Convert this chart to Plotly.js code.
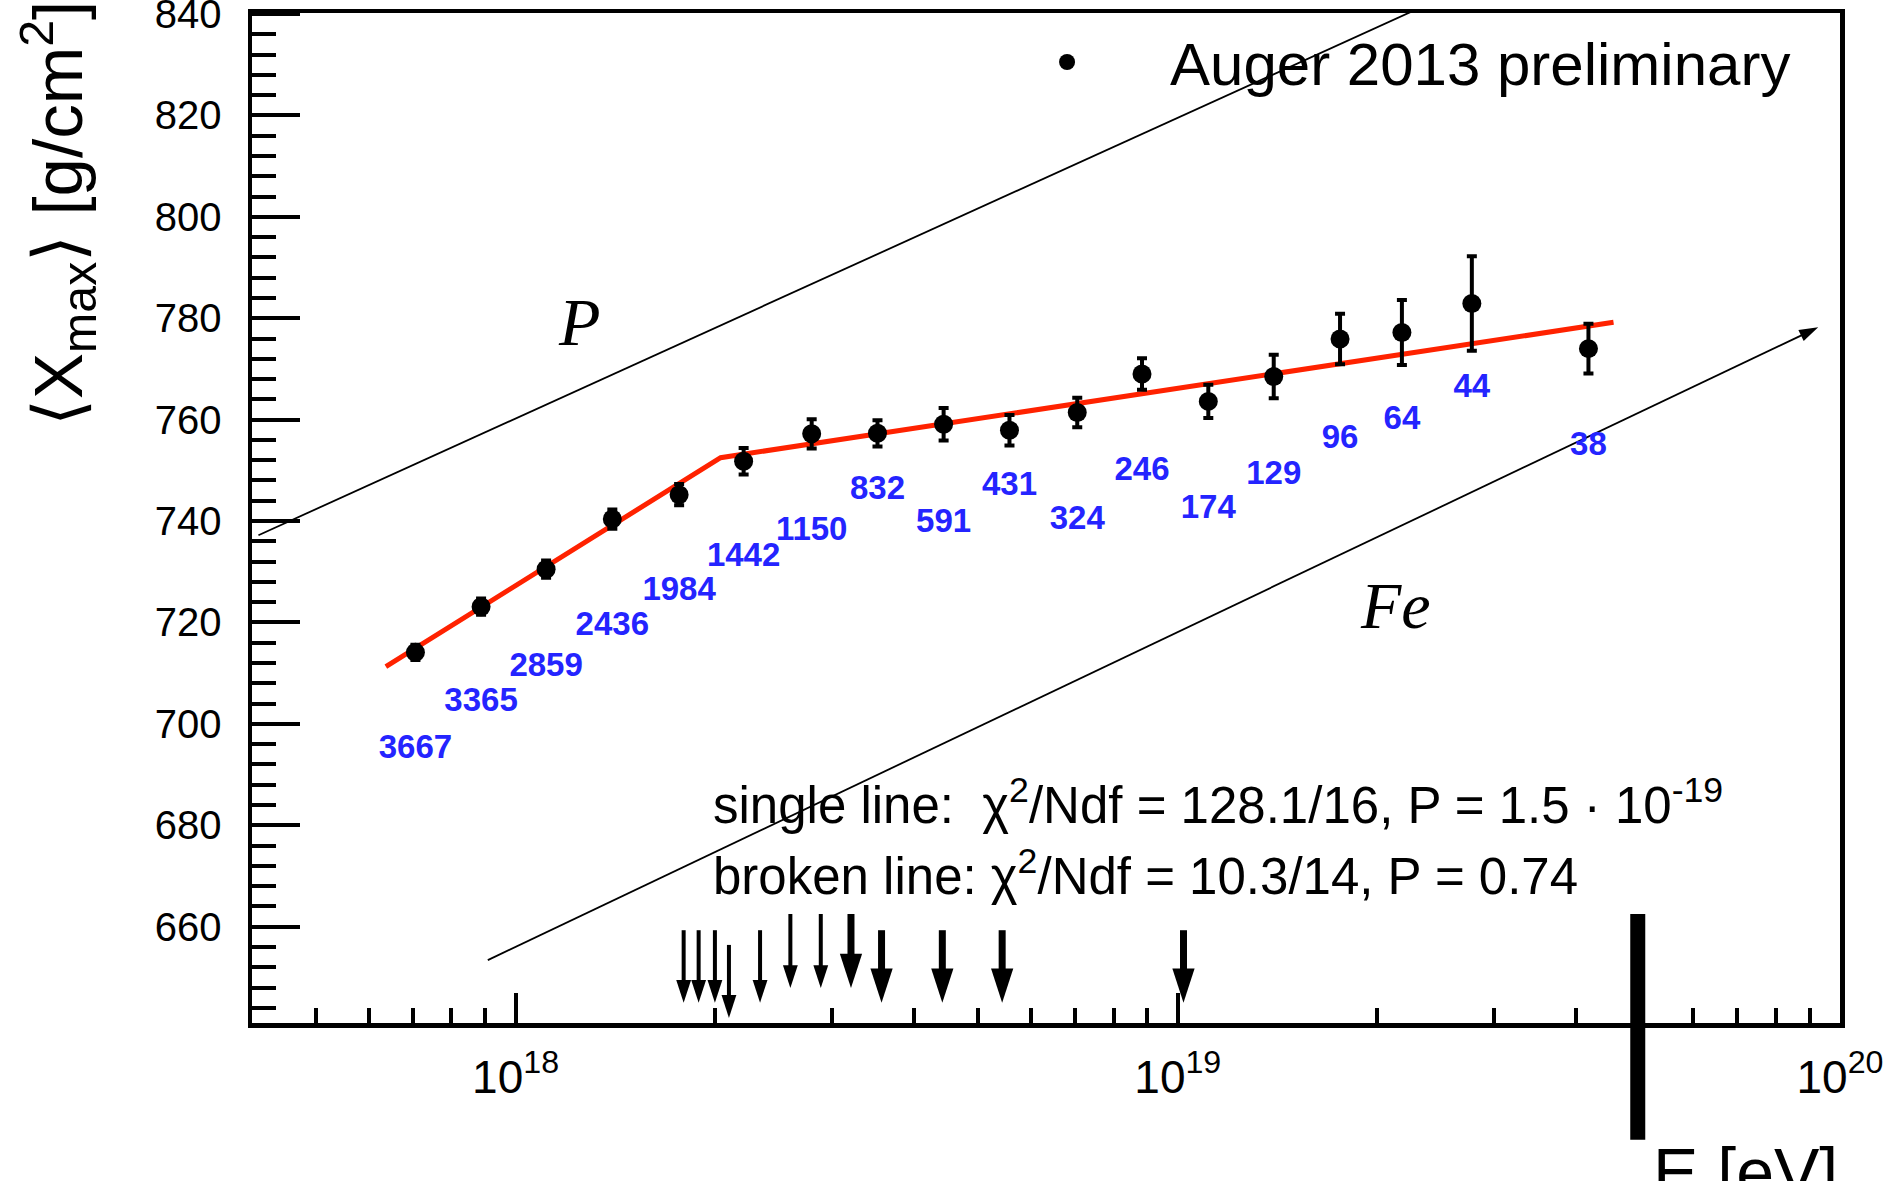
<!DOCTYPE html>
<html><head><meta charset="utf-8">
<script src="https://cdn.plot.ly/plotly-3.0.1.min.js"></script>
<style>html,body{margin:0;padding:0;background:#fff;} #chart{width:1891px;height:1181px;}</style>
</head><body><div id="chart"></div>
<script>
// ---- data ----
const energyEV   = [7.06e17, 8.87e17, 1.112e18, 1.40e18, 1.766e18, 2.21e18, 2.80e18, 3.52e18, 4.43e18, 5.57e18, 7.05e18, 8.83e18, 1.112e19, 1.396e19, 1.758e19, 2.18e19, 2.78e19, 4.17e19];
const xmaxMean   = [714.1, 723.1, 730.5, 740.4, 745.2, 751.8, 757.2, 757.3, 759.1, 757.9, 761.4, 769.0, 763.6, 768.5, 775.9, 777.2, 782.9, 774.0];
const xmaxErr    = [1.5, 1.6, 1.7, 1.9, 2.1, 2.6, 2.9, 2.6, 3.2, 3.0, 2.9, 3.1, 3.3, 4.3, 5.0, 6.4, 9.3, 4.9];
const eventCounts = [3667, 3365, 2859, 2436, 1984, 1442, 1150, 832, 591, 431, 324, 246, 174, 129, 96, 64, 44, 38];
const countLabelY = [694.8, 704.2, 711.1, 719.1, 726.0, 732.7, 737.8, 745.9, 739.4, 746.7, 740.0, 749.8, 742.2, 749.0, 756.1, 759.7, 766.0, 754.6];

const fitE = [6.37e17, 2.04e18, 4.55e19];
const fitX = [711.3, 752.5, 779.2];

const protonE = [4.09e17, 2.42e19];
const protonX = [737.2, 842.3];
const ironE   = [9.08e17, 9.27e19];
const ironX   = [653.4, 778.2];

const arrowE   = [1.794e18, 1.89e18, 2.0e18, 2.10e18, 2.34e18, 2.60e18, 2.89e18, 3.21e18, 3.57e18, 4.41e18, 5.43e18, 1.02e19];
const arrowTop = [659.3, 659.3, 659.3, 656.4, 659.3, 662.5, 662.5, 662.5, 659.3, 659.3, 659.3, 659.3];
const arrowTip = [645.0, 645.0, 645.0, 642.0, 645.0, 647.9, 647.9, 647.9, 645.0, 645.0, 645.0, 645.0];

const gzkE = 4.95e19;

const xTickVals = [1e18, 1e19, 1e20];
const xTickText = ['10<sup>18</sup>', '10<sup>19</sup>', '10<sup>20</sup>'];
const xMinorVals = [5e17, 6e17, 7e17, 8e17, 9e17, 2e18, 3e18, 4e18, 5e18, 6e18, 7e18, 8e18, 9e18, 2e19, 3e19, 4e19, 5e19, 6e19, 7e19, 8e19, 9e19];

const statLines = [
  'single line:  χ<sup>2</sup>/Ndf = 128.1/16, P = 1.5 · 10<sup>-19</sup>',
  'broken line: χ<sup>2</sup>/Ndf = 10.3/14, P = 0.74'
];
const statY = [684.5, 670.6];
const statE = 1.97e18;

// ---- drawing ----
const FONT = 'Liberation Sans, Arial, Helvetica, sans-serif';
const lg = v => Math.log10(v);

const traces = [
  // proton reference line
  {x: protonE, y: protonX, type: 'scatter', mode: 'lines',
   line: {color: 'black', width: 1.8}, showlegend: false, hoverinfo: 'skip'},
  // iron reference line with arrow head
  {x: ironE, y: ironX, type: 'scatter', mode: 'lines+markers',
   line: {color: 'black', width: 1.8},
   marker: {symbol: 'arrow', angleref: 'previous', size: [0, 20], color: 'black', opacity: 1, line: {width: 0}},
   showlegend: false, hoverinfo: 'skip', cliponaxis: false},
  // broken-line fit
  {x: fitE, y: fitX, type: 'scatter', mode: 'lines',
   line: {color: '#ff2200', width: 5}, showlegend: false, hoverinfo: 'skip'},
  // data
  {x: energyEV, y: xmaxMean, type: 'scatter', mode: 'markers',
   name: 'Auger 2013 preliminary',
   marker: {color: 'black', size: 19, symbol: 'circle'},
   error_y: {type: 'data', array: xmaxErr, visible: true, color: 'black', thickness: 4, width: 5},
   showlegend: true},
  // number of events
  {x: energyEV, y: countLabelY, type: 'scatter', mode: 'text',
   text: eventCounts.map(String),
   textfont: {family: FONT, size: 33, color: '#2424ff', weight: 'bold'},
   textposition: 'middle center', showlegend: false, hoverinfo: 'skip', cliponaxis: false}
];

// downward arrows along the bottom
arrowE.forEach((e, i) => {
  const thick = i >= 7;
  traces.push({
    x: [e, e], y: [arrowTop[i], arrowTip[i]], type: 'scatter', mode: 'lines+markers',
    line: {color: 'black', width: thick ? 7 : 4},
    marker: {symbol: 'arrow', angleref: 'previous', size: [0, thick ? 36 : 24], color: 'black', opacity: 1, line: {width: 0}},
    showlegend: false, hoverinfo: 'skip', cliponaxis: false
  });
});

const annotations = [];
// P / Fe labels
annotations.push({x: 18.096, y: 779.3, xref: 'x', yref: 'y', text: 'P', showarrow: false,
  font: {family: 'Liberation Serif, Times New Roman, serif', size: 68, color: 'black', style: 'italic'}});
annotations.push({x: 19.3286, y: 723.3, xref: 'x', yref: 'y', text: 'Fe', showarrow: false,
  font: {family: 'Liberation Serif, Times New Roman, serif', size: 66, color: 'black', style: 'italic'}});
// fit statistics
statLines.forEach((t, i) => {
  annotations.push({x: lg(statE), y: statY[i], xref: 'x', yref: 'y', text: t, showarrow: false,
    xanchor: 'left', yanchor: 'middle', font: {family: FONT, size: 51, color: 'black'}});
});
// axis titles (placed like the ROOT original)
annotations.push({x: -0.1226, y: 0.8013, xref: 'paper', yref: 'paper', showarrow: false,
  text: '⟨X<sub>max</sub>⟩ [g/cm<sup>2</sup>]', textangle: -90, xanchor: 'center', yanchor: 'middle',
  font: {family: FONT, size: 69, color: 'black'}});
annotations.push({x: 1.0, y: -0.108, xref: 'paper', yref: 'paper', showarrow: false,
  text: 'E [eV]', xanchor: 'right', yanchor: 'top',
  font: {family: FONT, size: 68, color: 'black'}});

const layout = {
  width: 1891, height: 1181,
  margin: {l: 252, r: 51, t: 13, b: 158, pad: 0},
  paper_bgcolor: 'white', plot_bgcolor: 'white',
  font: {family: FONT, color: 'black'},
  xaxis: {
    type: 'log', range: [17.602, 20.0], showgrid: false, zeroline: false,
    showline: true, linewidth: 4.5, linecolor: 'black', mirror: true,
    tickmode: 'array', tickvals: xTickVals, ticktext: xTickText,
    ticks: 'inside', ticklen: 30, tickwidth: 4, tickcolor: 'black',
    tickfont: {family: FONT, size: 46, color: 'black'}, ticklabelstandoff: 10,
    ticklabeloverflow: 'allow',
    minor: {tickmode: 'array', tickvals: xMinorVals, ticks: 'inside', ticklen: 15, tickwidth: 4, tickcolor: 'black', showgrid: false}
  },
  yaxis: {
    range: [641, 840.2], showgrid: false, zeroline: false,
    showline: true, linewidth: 4.5, linecolor: 'black', mirror: true,
    tick0: 0, dtick: 20, ticks: 'inside', ticklen: 48, tickwidth: 4, tickcolor: 'black',
    tickfont: {family: FONT, size: 40, color: 'black'}, ticklabelstandoff: 18,
    ticklabeloverflow: 'allow',
    minor: {dtick: 4, ticks: 'inside', ticklen: 24, tickwidth: 4, tickcolor: 'black', showgrid: false}
  },
  legend: {
    x: 0.4484, xanchor: 'left', y: 0.9515, yanchor: 'middle',
    bgcolor: 'rgba(0,0,0,0)', borderwidth: 0, itemwidth: 196,
    font: {family: FONT, size: 60, color: 'black'}
  },
  showlegend: true,
  shapes: [
    {type: 'line', xref: 'x', yref: 'paper', x0: gzkE, x1: gzkE, y0: -0.1155, y1: 0.108,
     line: {color: 'black', width: 15}, layer: 'above'}
  ],
  annotations: annotations
};

Plotly.newPlot('chart', traces, layout, {displayModeBar: false, staticPlot: true});
</script></body></html>
